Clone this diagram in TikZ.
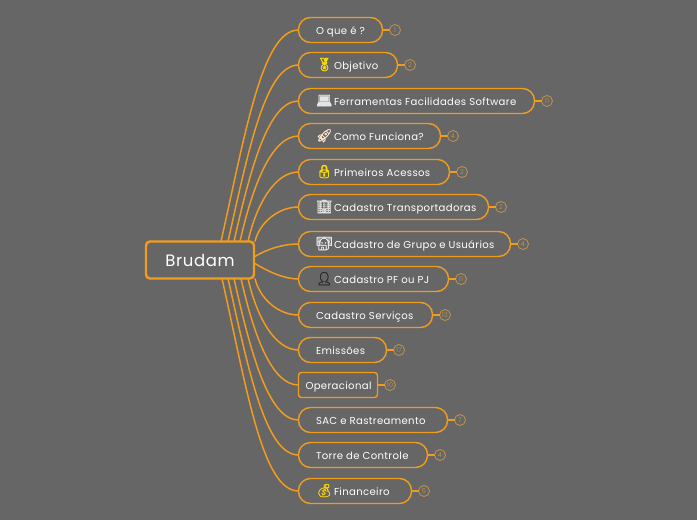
\documentclass[tikz,border=0pt]{standalone}
\usepackage{fontspec}
\setmainfont[LetterSpace=3.5]{Poppins}
\newfontfamily\emojifont[FakeBold=1.5]{Noto Emoji}
\usetikzlibrary{positioning}
\definecolor{pagebg}{HTML}{666666}
\definecolor{brorange}{HTML}{F09C1E}
\definecolor{cntorange}{HTML}{B8904F}
\newcommand{\icon}[2]{\makebox[18pt][l]{\emojifont\fontsize{13}{13}\selectfont\textcolor{#1}{#2}}}
\tikzset{
  rootnode/.style={draw=brorange,line width=2.4pt,rounded corners=4pt,minimum width=108pt,
    minimum height=37pt,outer sep=0pt,text=white,font=\fontsize{16.5}{20}\selectfont},
  branch/.style={draw=brorange,line width=1.4pt,rounded corners=12pt,minimum height=25pt,
    anchor=west,inner xsep=17.5pt,inner ysep=0pt,outer sep=0pt,text=white,
    text height=9pt,text depth=1pt,font=\fontsize{10.1}{12}\selectfont},
  squarebranch/.style={branch,rounded corners=3pt,inner xsep=7pt},
  countnode/.style={draw=cntorange,circle,line width=0.9pt,minimum size=11pt,inner sep=0pt,
    outer sep=0pt,text=cntorange,font=\fontsize{6.5}{7}\selectfont},
  link/.style={draw=brorange,line width=1.5pt}
}

\begin{document}
\begin{tikzpicture}[x=1pt,y=-1pt]
  \path[use as bounding box,fill=pagebg] (0,0) rectangle (697,520);
  \node[rootnode] (root) at (200,260) {Brudam};
  % branches: height / name / inner width / count / label
  \foreach \ypos/\name/\wide/\num/\label in {
      30/oque/49/1/{O que é ?},
      65/objetivo/64/2/{\icon{yellow!80!orange}{🏅}Objetivo},
      101/ferramentas/201/11/{\icon{gray!20}{💻}Ferramentas Facilidades Software},
      136/como/107/4/{\icon{white!80!orange}{🚀}Como Funciona?},
      172/acessos/116/2/{\icon{yellow!80!orange}{🔒}Primeiros Acessos},
      207/transp/155/2/{\icon{gray!25}{🏢}Cadastro Transportadoras},
      244/grupo/177/4/{\icon{gray!15}{🧑‍💻}Cadastro de Grupo e Usuários},
      279/pessoa/115/11/{\icon{pagebg!40!black}{👤}Cadastro PF ou PJ},
      315/servicos/99/13/{Cadastro Serviços},
      350/emissoes/53/17/{Emissões},
      420/sac/114/7/{SAC e Rastreamento},
      455/torre/94/4/{Torre de Controle},
      491/financeiro/78/5/{\icon{yellow!70!orange}{💰}Financeiro}}
  {
    \node[branch] (\name) at (298.5,\ypos) {\makebox[\wide pt][l]{\label}};
    \node[countnode,right=7pt of \name] (\name n) {\num};
    \path[link] (\name) -- (\name n);
  }
  \node[squarebranch] (operacional) at (298.5,385) {\makebox[65pt][l]{Operacional}};
  \node[countnode,right=7pt of operacional] (operacional n) {10};
  \path[link] (operacional) -- (operacional n);
  % long curves leave through the top and bottom edges of the root
  \foreach \name/\ypos/\sx in {oque/30/75,objetivo/65/82,ferramentas/101/88,
                               como/136/94,acessos/172/102,transp/207/109}
  {
    \pgfmathsetmacro\rise{241-\ypos}
    \pgfmathsetmacro\cdx{0.118*\rise}
    \pgfmathsetmacro\cdy{-0.526*\rise}
    \pgfmathsetmacro\cox{-18-0.085*\rise}
    \path[link] ([xshift=\sx pt]root.north west) .. controls +(\cdx,\cdy) and +(\cox,0) .. (\name.west);
  }
  \foreach \name/\ypos/\sx in {financeiro/491/76,torre/455/82,sac/420/88,
                               operacional/385/95,emissoes/350/102,servicos/315/109}
  {
    \pgfmathsetmacro\rise{\ypos-279}
    \pgfmathsetmacro\cdx{0.118*\rise}
    \pgfmathsetmacro\cdy{0.526*\rise}
    \pgfmathsetmacro\cox{-18-0.085*\rise}
    \path[link] ([xshift=\sx pt]root.south west) .. controls +(\cdx,\cdy) and +(\cox,0) .. (\name.west);
  }
  \path[link] ([yshift=3pt]root.east) .. controls +(15,-9) and +(-14,0) .. (grupo.west);
  \path[link] ([yshift=-3pt]root.east) .. controls +(15,9) and +(-14,0) .. (pessoa.west);
\end{tikzpicture}
\end{document}
